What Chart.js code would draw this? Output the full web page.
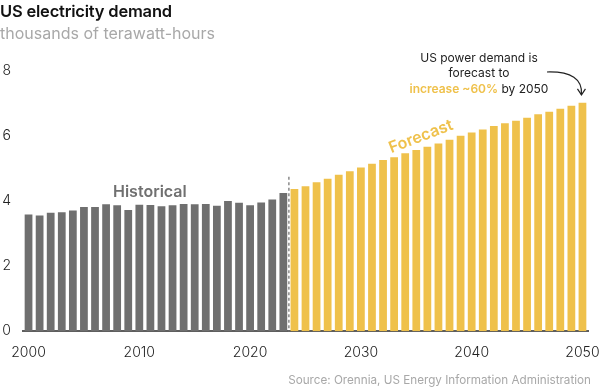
<!DOCTYPE html>
<html>
<head>
<meta charset="utf-8">
<script src="https://cdn.jsdelivr.net/npm/chart.js@4.4.1/dist/chart.umd.min.js"></script>
<style>
  html, body { margin: 0; padding: 0; background: #fff; }
  #wrap { position: relative; width: 599px; height: 389px; overflow: hidden; font-family: Inter, "Noto Sans", sans-serif; }
  #c { position: absolute; left: 0; top: 0; }
  .t { position: absolute; white-space: nowrap; line-height: 1; }
</style>
</head>
<body>
<div id="wrap">
  <canvas id="c" width="599" height="389"></canvas>
  <div class="t" style="left:0;top:3px;font-size:16.5px;font-weight:600;letter-spacing:-0.2px;color:#111;">US electricity demand</div>
  <div class="t" style="left:0;top:25px;font-size:16px;font-weight:400;color:#a8a8a8;">thousands of terawatt-hours</div>
  <div class="t" style="left:113px;top:183px;font-size:16px;font-weight:600;color:#707070;">Historical</div>
  <div class="t" style="left:392px;top:139px;font-size:16px;font-weight:600;color:#efc14b;transform:rotate(-21deg);transform-origin:left bottom;">Forecast</div>
  <div class="t" style="left:409px;top:50px;width:140px;text-align:center;font-size:12px;line-height:15.3px;color:#222;">US power demand is<br>forecast to<br><span style="color:#efc14b;font-weight:600;">increase ~60%</span> by 2050</div>
  <div class="t" style="right:8px;top:375px;font-size:11.7px;color:#a8a8a8;">Source: Orennia, US Energy Information Administration</div>
</div>
<script>
// ---- data ----
const years = [];
for (let y = 2000; y <= 2050; y++) years.push(String(y));
const historical = [3.59, 3.56, 3.64, 3.66, 3.71, 3.82, 3.82, 3.90, 3.87, 3.73,
                    3.89, 3.88, 3.84, 3.87, 3.91, 3.90, 3.91, 3.86, 4.00, 3.95,
                    3.87, 3.96, 4.05, 4.25];
const forecast = [4.37, 4.46, 4.58, 4.69, 4.81, 4.92, 5.03, 5.15, 5.26, 5.35,
                  5.47, 5.57, 5.67, 5.77, 5.89, 6.01, 6.11, 6.20, 6.31, 6.39,
                  6.47, 6.56, 6.67, 6.75, 6.84, 6.93, 7.02];
const yTicks = [0, 2, 4, 6, 8];
const xTickYears = ['2000', '2010', '2020', '2030', '2040', '2050'];
const dividerTopValue = 4.75;

const values = historical.concat(forecast);
const colors = values.map((v, i) => i < historical.length ? '#6f6f6f' : '#efc14b');

const overlay = {
  id: 'overlay',
  afterDatasetsDraw(chart) {
    const ctx = chart.ctx;
    const xs = chart.scales.x, ys = chart.scales.y;
    // dashed divider
    const xd = xs.getPixelForValue(historical.length - 0.5);
    ctx.save();
    ctx.strokeStyle = '#8a8a8a';
    ctx.lineWidth = 1.5;
    ctx.setLineDash([3, 2.5]);
    ctx.beginPath();
    ctx.moveTo(xd, ys.getPixelForValue(dividerTopValue));
    ctx.lineTo(xd, ys.getPixelForValue(0));
    ctx.stroke();
    ctx.restore();
    // curved arrow
    const lastX = xs.getPixelForValue(values.length - 1);
    const lastY = ys.getPixelForValue(values[values.length - 1]);
    ctx.save();
    ctx.strokeStyle = '#222';
    ctx.lineWidth = 1.2;
    ctx.beginPath();
    const sx = 547, sy = 72;
    const ex = lastX - 1, ey = lastY - 8;
    ctx.moveTo(sx, sy);
    ctx.quadraticCurveTo(ex + 2, sy - 1, ex, ey);
    ctx.stroke();
    ctx.beginPath();
    ctx.moveTo(ex - 4, ey - 6);
    ctx.lineTo(ex, ey);
    ctx.lineTo(ex + 4, ey - 6);
    ctx.stroke();
    ctx.restore();
  }
};

new Chart(document.getElementById('c'), {
  type: 'bar',
  data: {
    labels: years,
    datasets: [{ data: values, backgroundColor: colors, barPercentage: 0.7, categoryPercentage: 1.0 }]
  },
  options: {
    responsive: false,
    animation: false,
    events: [],
    layout: { padding: { left: 2, right: 11, top: 71, bottom: 15 } },
    plugins: { legend: { display: false }, tooltip: { enabled: false } },
    scales: {
      x: {
        z: 1,
        grid: { display: false, drawTicks: false },
        border: { display: true, color: 'rgba(40,40,40,0.75)', width: 2 },
        afterFit: (s) => { s.paddingLeft = 0; s.paddingRight = 0; },
        ticks: {
          autoSkip: false, maxRotation: 0, padding: 13,
          color: '#222', font: { family: 'Inter', size: 14, weight: 300 },
          callback: function (v) { const l = this.getLabelForValue(v); return xTickYears.includes(l) ? l : null; }
        }
      },
      y: {
        min: 0, max: 8,
        afterBuildTicks: (s) => { s.ticks = yTicks.map(v => ({ value: v })); },
        afterFit: (s) => { s.width = 21; s.paddingTop = 0; s.paddingBottom = 0; },
        grid: { display: false, drawTicks: false },
        border: { display: false },
        ticks: { padding: 12, color: '#222', font: { family: 'Inter', size: 14, weight: 300 } }
      }
    }
  },
  plugins: [overlay]
});
</script>
</body>
</html>
